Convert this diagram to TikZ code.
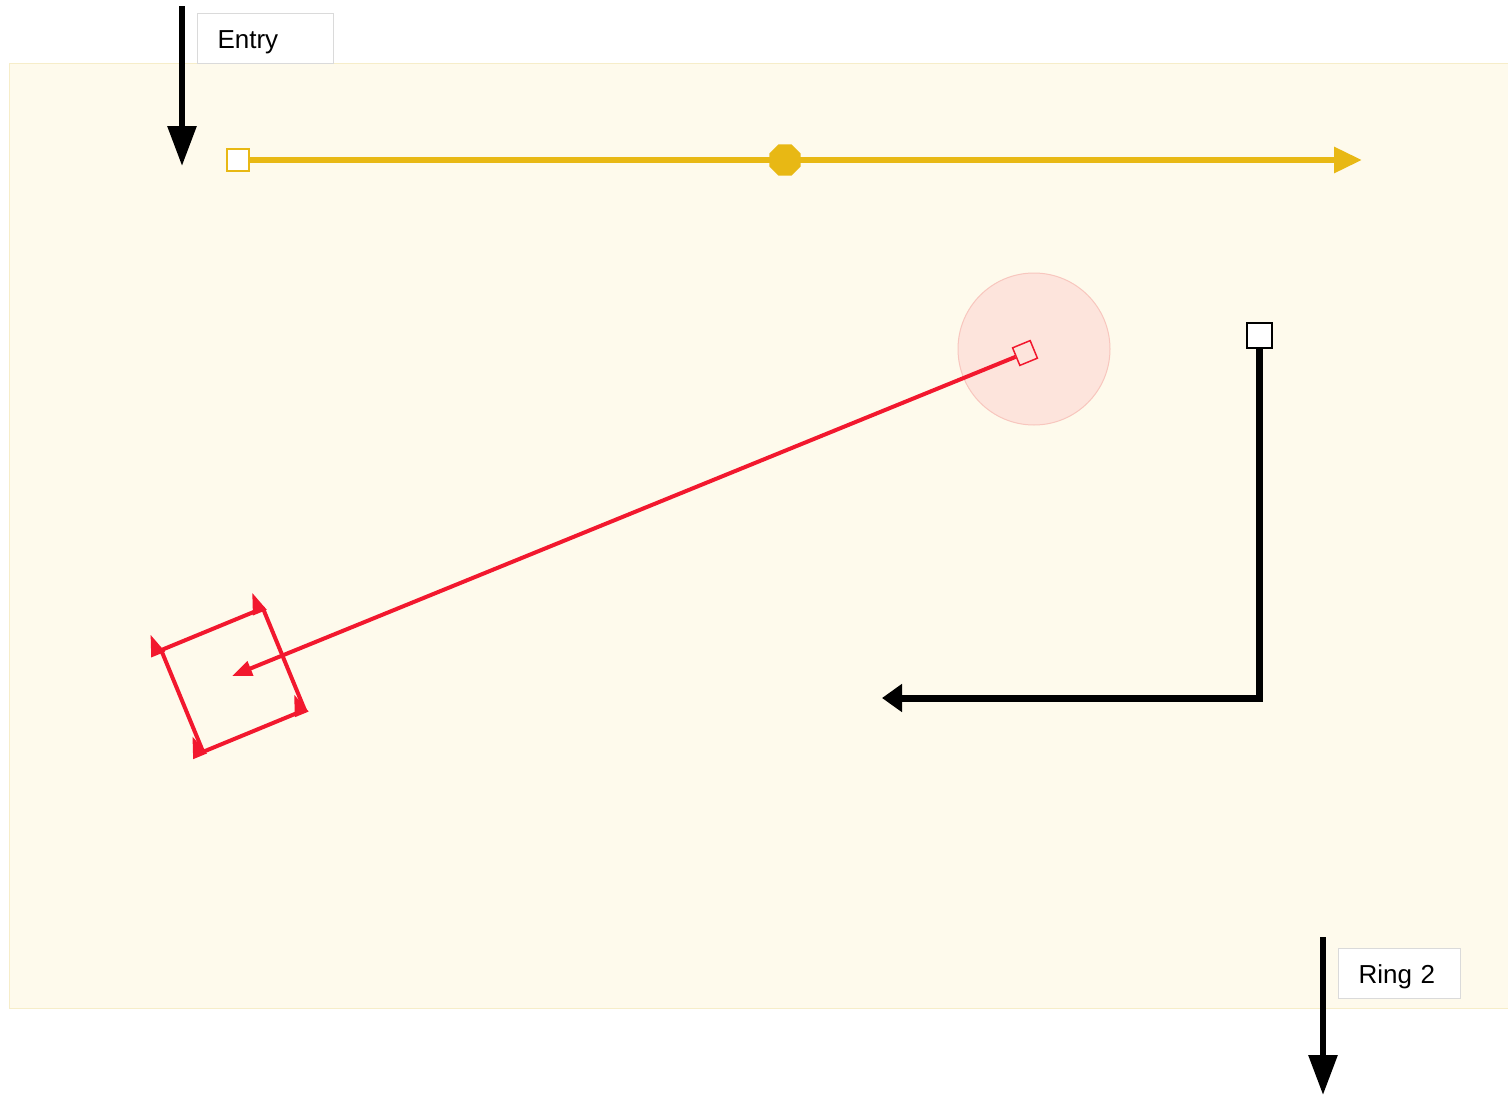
\documentclass[tikz,border=0pt]{standalone}
\usepackage{fontspec}
\setmainfont{Liberation Sans}
\usetikzlibrary{arrows.meta, positioning, shapes.geometric}
\definecolor{panelcream}{HTML}{FEFAEC}
\definecolor{paneledge}{HTML}{F6EDC9}
\definecolor{boxgray}{HTML}{DADADA}
\definecolor{gold}{HTML}{E8B814}
\definecolor{hotred}{HTML}{F2182E}
\definecolor{blush}{HTML}{FDE4DC}
\definecolor{blushedge}{HTML}{F8C6BE}

\begin{document}
\begin{tikzpicture}[x=1pt, y=-1pt,
    every node/.style={font=\fontsize{26}{31}\selectfont},
    labelbox/.style={draw=boxgray, fill=white, line width=1pt, inner xsep=20pt, inner ysep=0pt,
        text height=19pt, text depth=0pt, align=left, minimum height=50pt, anchor=north west},
    dropflow/.style={line width=6pt, -{Triangle[length=40pt, width=28pt]}},
    goldline/.style={gold, line width=6pt, -{Triangle[length=28pt, width=25pt]}},
    redline/.style={hotred, line width=4pt, -{Triangle[length=20pt, width=15pt]}},
    blackline/.style={line width=7pt, -{Triangle[length=20pt, width=27pt]}},
    handle/.style={fill=white, line width=2pt, minimum size=22pt, inner sep=0pt}]

    \useasboundingbox (0,0) rectangle (1508,1095);
    % panel
    \fill[panelcream, draw=paneledge, line width=1pt] (9,63) rectangle (1508,1008);

    % labels and drops
    \node[labelbox, text width=96pt] (entry) at (197,13) {Entry};
    \node[labelbox, text width=82pt] (ring) at (1338,948) {Ring 2};
    \coordinate (entrytop) at (182,6);
    \coordinate (entrytip) at (182,166);
    \coordinate (ringtop) at (1323,937);
    \coordinate (ringtip) at (1323,1095);
    \draw[dropflow] (entrytop) -- (entrytip);
    \draw[dropflow] (ringtop) -- (ringtip);

    % gold track
    \node[handle, draw=gold] (goldstart) at (238,160) {};
    \coordinate (goldend) at (1362,160);
    \draw[goldline] (goldstart) -- (goldend);
    \node[regular polygon, regular polygon sides=8, fill=gold, minimum size=34pt, inner sep=0pt] (stop) at (785,160) {};

    % red throw
    \node[circle, fill=blush, draw=blushedge, line width=1pt, minimum size=152pt] (zone) at (1034,349) {};
    \node[draw=hotred, line width=1.5pt, minimum size=19pt, inner sep=0pt, rotate=22.4] (probe) at (1025,353) {};
    \coordinate (aim) at (232,676);
    \draw[redline] (probe) -- (aim);
    \begin{scope}[shift={(233,680)}, rotate=22.4]
        \draw[hotred, line width=4pt, line join=round] (-55,-55) rectangle (55,55);
        \foreach \cx/\cy in {-55/-55, 55/-55, 55/55, -55/55}
            \fill[hotred] (\cx+3,\cy+3) -- (\cx-12,\cy+3) -- (\cx-4,\cy-18) -- cycle;
    \end{scope}

    % black elbow
    \node[handle, draw=black, minimum size=25pt] (gate) at (1259,335) {};
    \coordinate (elbowend) at (882,698);
    \draw[blackline] (gate.south) |- (elbowend);
\end{tikzpicture}
\end{document}
